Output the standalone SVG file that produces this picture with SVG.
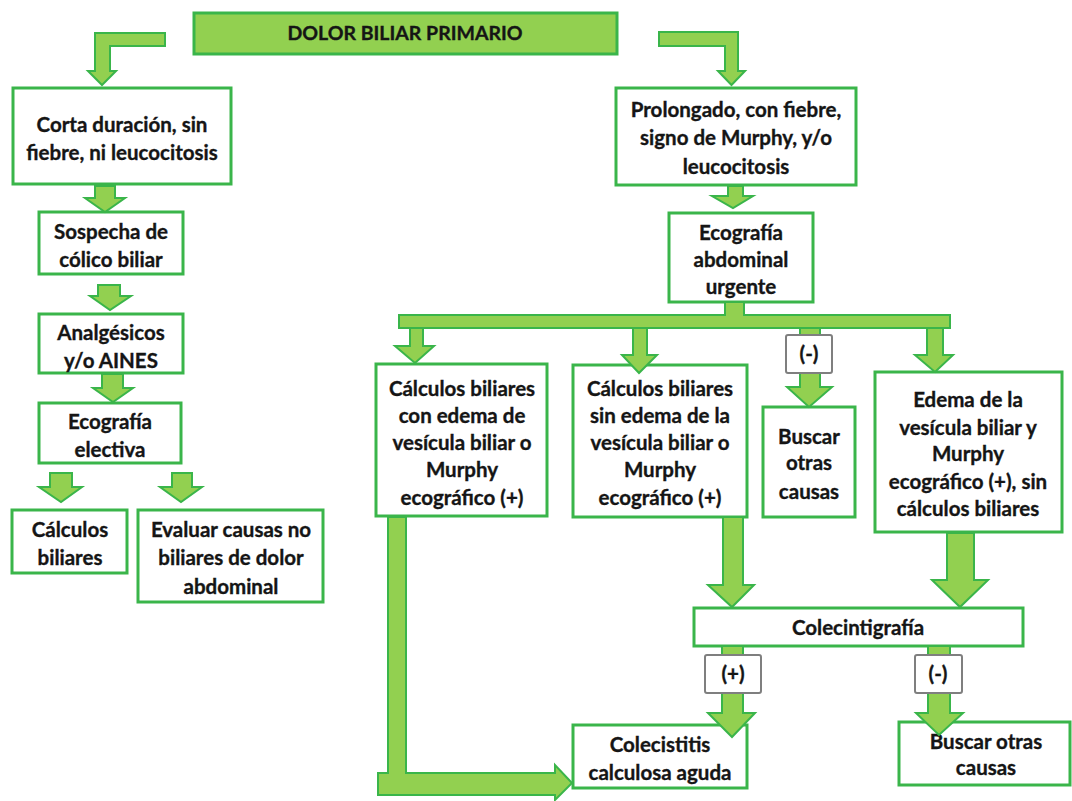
<svg xmlns="http://www.w3.org/2000/svg" width="1072" height="801" viewBox="0 0 1072 801">
<style>
.box{fill:#ffffff;stroke:#3ab54a;stroke-width:3}
.title{fill:#92d050;stroke:#3ab54a;stroke-width:3}
.arr{fill:#92d050;stroke:#3ab54a;stroke-width:2;stroke-linejoin:miter}
.lbl{fill:#ffffff;stroke:#7f7f7f;stroke-width:2}
text{font-family:Lato,"Open Sans","Liberation Sans",sans-serif;font-weight:bold;font-size:20.5px;fill:#151515;stroke:#151515;stroke-width:0.35;text-anchor:middle}
</style>
<rect width="1072" height="801" fill="#ffffff"/>

<g id="nodes">
<g id="n-title"><rect class="title" x="194" y="13" width="423" height="41"/><text x="405" y="40" style="font-size:19.5px">DOLOR BILIAR PRIMARIO</text></g>
<g id="n-corta"><rect class="box" x="13" y="88" width="218" height="96"/><text x="122" y="132">Corta duración, sin</text><text x="122" y="160">fiebre, ni leucocitosis</text></g>
<g id="n-prolongado"><rect class="box" x="616" y="88" width="240" height="97"/><text x="736" y="117">Prolongado, con fiebre,</text><text x="736" y="145">signo de Murphy, y/o</text><text x="736" y="174">leucocitosis</text></g>
<g id="n-sospecha"><rect class="box" x="39" y="212" width="144" height="62"/><text x="111" y="239">Sospecha de</text><text x="111" y="267">cólico biliar</text></g>
<g id="n-analgesicos"><rect class="box" x="39" y="314" width="144" height="59"/><text x="111" y="340">Analgésicos</text><text x="111" y="368">y/o AINES</text></g>
<g id="n-eco-electiva"><rect class="box" x="39" y="403" width="142" height="60"/><text x="110" y="429">Ecografía</text><text x="110" y="457">electiva</text></g>
<g id="n-calculos-left"><rect class="box" x="12" y="510" width="115" height="63"/><text x="70" y="537">Cálculos</text><text x="70" y="565">biliares</text></g>
<g id="n-evaluar"><rect class="box" x="138" y="510" width="185" height="92"/><text x="231" y="537">Evaluar causas no</text><text x="231" y="565">biliares de dolor</text><text x="231" y="594">abdominal</text></g>
<g id="n-eco-abdominal"><rect class="box" x="669" y="213" width="144" height="89"/><text x="741" y="240">Ecografía</text><text x="741" y="267">abdominal</text><text x="741" y="294">urgente</text></g>
<g id="n-calc-con-edema"><rect class="box" x="376" y="364" width="171" height="152"/><text x="462" y="396">Cálculos biliares</text><text x="462" y="423">con edema de</text><text x="462" y="450">vesícula biliar o</text><text x="462" y="477">Murphy</text><text x="462" y="505">ecográfico (+)</text></g>
<g id="n-calc-sin-edema"><rect class="box" x="573" y="365" width="174" height="152"/><text x="660" y="396">Cálculos biliares</text><text x="660" y="423">sin edema de la</text><text x="660" y="450">vesícula biliar o</text><text x="660" y="477">Murphy</text><text x="660" y="505">ecográfico (+)</text></g>
<g id="n-buscar-mid"><rect class="box" x="763" y="407" width="92" height="110"/><text x="809" y="444">Buscar</text><text x="809" y="470">otras</text><text x="809" y="499">causas</text></g>
<g id="n-edema"><rect class="box" x="875" y="372" width="187" height="160"/><text x="968" y="407">Edema de la</text><text x="968" y="435">vesícula biliar y</text><text x="968" y="461">Murphy</text><text x="968" y="489">ecográfico (+), sin</text><text x="968" y="516">cálculos biliares</text></g>
<g id="n-colecintigrafia"><rect class="box" x="694" y="608" width="329" height="38"/><text x="858" y="635">Colecintigrafía</text></g>
<g id="n-colecistitis"><rect class="box" x="573" y="725" width="174" height="63"/><text x="660" y="752">Colecistitis</text><text x="660" y="780">calculosa aguda</text></g>
<g id="n-buscar-bottom"><rect class="box" x="899" y="722" width="171" height="63"/><text x="986" y="749">Buscar otras</text><text x="986" y="775">causas</text></g>
</g>

<g id="connectors">
<polygon class="arr" points="165,33 95,33 95,71 88,71 102,85 116,71 110,71 110,46 165,46"/>
<polygon class="arr" points="659,32 738,32 738,71 745,71 731.5,85 718,71 725,71 725,46 659,46"/>
<polygon class="arr" points="95,186 115,186 115,198 125,198 105,212 85,198 95,198"/>
<polygon class="arr" points="98,285 120,285 120,296 131,296 110,310 90,296 98,296"/>
<polygon class="arr" points="102,374 123,374 123,388 133,388 113,402 93,388 102,388"/>
<polygon class="arr" points="50,473 72,473 72,487 82,487 61,502 39,487 50,487"/>
<polygon class="arr" points="172,473 192,473 192,487 202,487 181,502 160,487 172,487"/>
<polygon class="arr" points="728,186 743,186 743,196 753,196 733,208 712,196 728,196"/>
<polygon class="arr" points="725,302 744,302 744,315 950,315 950,328 399,328 399,315 725,315"/>
<polygon class="arr" points="410,328 423,328 423,346 434,346 415,363 395,346 410,346"/>
<polygon class="arr" points="633,328 647,328 647,355 657,355 639,373 622,355 633,355"/>
<polygon class="arr" points="800,328 820,328 820,387 832,387 809,407 787,387 800,387"/>
<polygon class="arr" points="927,328 943,328 943,355 953,355 935,372 915,355 927,355"/>
<polygon class="arr" points="388,517 406,517 406,773 555,773 555,765 572,783 555,800 555,795 378,795 378,773 388,773"/>
<polygon class="arr" points="723,517 743,517 743,585 754,585 732,607 708,585 723,585"/>
<polygon class="arr" points="947,533 974,533 974,580 988,580 960,607 932,580 947,580"/>
<polygon class="arr" points="722,646 743,646 743,713 755,713 732,737 708,713 722,713"/>
<polygon class="arr" points="928,646 950,646 950,713 963,713 939,735 916,713 928,713"/>
</g>

<g id="labels">
<g id="l-neg-top"><rect class="lbl" x="786" y="335" width="46" height="38" rx="2"/><text x="809" y="361">(-)</text></g>
<g id="l-pos"><rect class="lbl" x="705" y="655" width="56" height="38" rx="2"/><text x="733" y="681">(+)</text></g>
<g id="l-neg"><rect class="lbl" x="915" y="655" width="47" height="38" rx="2"/><text x="938" y="681">(-)</text></g>
</g>
</svg>
